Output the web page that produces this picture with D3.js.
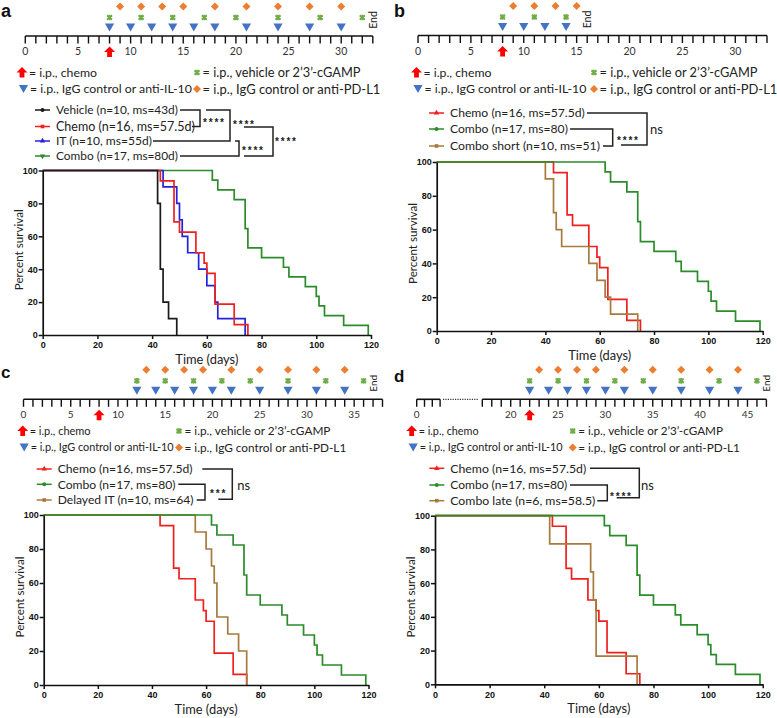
<!DOCTYPE html>
<html><head><meta charset="utf-8">
<script src="https://cdn.jsdelivr.net/npm/d3@7"></script>
<style>body{margin:0;background:#fff}svg{display:block}</style>
</head><body>
<svg id="fig" width="777" height="718"></svg>
<script>
// ---------------- DATA ----------------
// Kaplan-Meier step data (days, percent survival)
const chemoT   = [0,43,48,50,56,59,60,63,70,75];
const chemoS   = [100,93.75,68.75,62.5,50,43.75,37.5,18.75,6.25,0];
const comboT   = [0,62,64,70,74,75,80,88,90,96,100,101,103,110,119];
const comboS   = [100,94.12,88.24,82.35,64.71,52.94,47.06,41.18,35.29,29.41,23.53,17.65,11.76,5.88,0];
const vehicleT = [0,42,43,44,46,49];
const vehicleS = [100,80,40,20,10,0];
const itT      = [0,44,49,50,51,53,57,60,63,64,74];
const itS      = [100,90,80,70,60,50,40,30,20,10,0];
const shortT   = [0,40,43,44,46,56,59,62,64,74];
const shortS   = [100,90,70,60,50,40,30,20,10,0];
const delayedT = [0,56,60,62,63,64,68,72,75];
const delayedS = [100,90,80,70,60,40,30,20,0];
const lateT    = [0,42,57,58,59,74];
const lateS    = [100,83.33,66.67,50,16.67,0];

// legend labels
const legendA = ["Vehicle (n=10, ms=43d)","Chemo (n=16, ms=57.5d)","IT (n=10, ms=55d)","Combo (n=17, ms=80d)"];
const legendB = ["Chemo (n=16, ms=57.5d)","Combo (n=17, ms=80)","Combo short (n=10, ms=51)"];
const legendC = ["Chemo (n=16, ms=57.5d)","Combo (n=17, ms=80)","Delayed IT (n=10, ms=64)"];
const legendD = ["Chemo (n=16, ms=57.5d)","Combo (n=17, ms=80)","Combo late (n=6, ms=58.5)"];

// treatment schedules (days)
const chemoDaysA = [8],  cgampDaysA = [8,11,14,17,20,24,28,32], il10DaysA = [8,10,12,14,16,18,21,24,27,30], pdl1DaysA = [9,11,13,15,18,21,24,27,30];
const chemoDaysB = [8],  cgampDaysB = [8,11,14], il10DaysB = [8,10,12,14], pdl1DaysB = [9,11,13,15];
const chemoDaysC = [8],  cgampDaysC = [12,15,18,21,24,28,32,36], il10DaysC = [12,14,16,18,20,22,25,28,31,34], pdl1DaysC = [13,15,17,19,22,25,28,31,34];
const chemoDaysD = [22], cgampDaysD = [22,25,28,31,34,38,42,46], il10DaysD = [22,24,26,28,30,32,35,38,41,44], pdl1DaysD = [23,25,27,29,32,35,38,41,44];
const endDays = [33,16,37,47];
const tlLabelsAB = [0,5,10,15,20,25,30];
const tlLabelsC  = [0,5,10,15,20,25,30,35];
const tlLabelsD  = [0,20,25,30,35,40,45];
const kmXTicks = [0,20,40,60,80,100,120];
const kmYTicks = [0,20,40,60,80,100];
const schedLegend = ["= i.p., chemo","= i.p., vehicle or 2\u20193\u2019-cGAMP","= i.p., IgG control or anti-IL-10","= i.p., IgG control or anti-PD-L1"];

// ---------------- STYLE ----------------
const FONT = "Lato, 'Open Sans', sans-serif";
const C = {black:"#1a1a1a", red:"#f0201e", blue:"#2323dc", green:"#2a8c2a", brown:"#a87a3c",
           orange:"#ED7D31", tgreen:"#70AD47", tblue:"#4472C4", tred:"#FF0000"};
const svg = d3.select("#fig");

// ---------------- HELPERS ----------------
function txt(g,x,y,s,size,w){
  const t = g.append("text").attr("x",x).attr("y",y).attr("dy","0.35em").attr("font-family",FONT).attr("font-size",size||13).attr("fill","#222").text(s);
  if(w){ const m = t.node().getComputedTextLength(); if(m>0) t.attr("font-size",(size||13)*w/m); }
  return t;
}
function arrow(g,cx,cy){ g.append("path").attr("d",`M${cx},${cy-5.5}L${cx+5.5},${cy}L${cx+2.4},${cy}L${cx+2.4},${cy+5}L${cx-2.4},${cy+5}L${cx-2.4},${cy}L${cx-5.5},${cy}Z`).attr("fill",C.tred); }
function tri(g,cx,cy){ g.append("path").attr("d",`M${cx-4.6},${cy-4}L${cx+4.6},${cy-4}L${cx},${cy+4}Z`).attr("fill",C.tblue); }
function diam(g,cx,cy){ g.append("path").attr("d",`M${cx},${cy-4}L${cx+4},${cy}L${cx},${cy+4}L${cx-4},${cy}Z`).attr("fill",C.orange); }
function ast(g,cx,cy){ g.append("path").attr("d",d3.symbol(d3.symbolAsterisk,22)()).attr("transform",`translate(${cx},${cy})`).attr("stroke",C.tgreen).attr("stroke-width",1.7).attr("fill","none");
  g.append("path").attr("d",d3.symbol(d3.symbolTimes,16)()).attr("transform",`translate(${cx},${cy})`).attr("stroke",C.tgreen).attr("stroke-width",1.6).attr("fill","none"); }

// ---------------- TIMELINE ----------------
function timeline(o){
  const g = svg.append("g");
  const L = o.L;
  o.segments.forEach(sg=>{
    g.append("line").attr("x1",sg.x(sg.d0)).attr("x2",sg.x(sg.d1)).attr("y1",L).attr("y2",L).attr("stroke","#111").attr("stroke-width",1.6);
    d3.range(sg.d0, sg.d1+1).forEach(d=>{
      g.append("line").attr("x1",sg.x(d)).attr("x2",sg.x(d)).attr("y1",L).attr("y2",L+7.5).attr("stroke","#111").attr("stroke-width",1.4);
    });
  });
  if(o.dots) g.append("line").attr("x1",o.dots[0]).attr("x2",o.dots[1]).attr("y1",L).attr("y2",L).attr("stroke","#333").attr("stroke-width",1.2).attr("stroke-dasharray","1.2,1.2");
  o.labels.forEach(d=>{
    g.append("text").attr("x",o.x(d)).attr("y",L+19).attr("text-anchor","middle").attr("font-family",FONT).attr("font-size",o.fs).attr("fill","#333").text(d);
  });
  o.chemo.forEach(d=>arrow(g,o.x(d),L+16));
  o.il10.forEach(d=>tri(g,o.x(d),L-8.5));
  o.cgamp.forEach(d=>ast(g,o.x(d),L-18.5));
  o.pdl1.forEach(d=>diam(g,o.x(d),L-29.5));
  g.append("text").attr("transform",`translate(${o.x(o.end)+4},${L-16}) rotate(-90)`).attr("text-anchor","middle").attr("font-family",FONT).attr("font-size",o.fs).attr("fill","#222").text("End");
  const lg = o.leg;
  arrow(g,lg.x1,lg.r1); txt(g,lg.x1+7,lg.r1,schedLegend[0],13,lg.w[0]);
  ast(g,lg.x2,lg.r1); txt(g,lg.x2+5.5,lg.r1,schedLegend[1],13,lg.w[1]);
  tri(g,lg.x1+1.5,lg.r2); txt(g,lg.x1+8,lg.r2,schedLegend[2],13,lg.w[2]);
  diam(g,lg.x2,lg.r2); txt(g,lg.x2+5.5,lg.r2,schedLegend[3],13,lg.w[3]);
}

// ---------------- KM PANEL ----------------
function km(o){
  const g = svg.append("g");
  const x = d3.scaleLinear().domain([0,120]).range([o.x0,o.x1]);
  const y = d3.scaleLinear().domain([0,100]).range([o.y0,o.y1]);
  const line = d3.line().x(d=>x(d[0])).y(d=>y(d[1])).curve(d3.curveStepAfter);
  o.curves.forEach(c=>{
    g.append("path").attr("d",line(c.t.map((t,i)=>[t,c.s[i]]))).attr("fill","none").attr("stroke",c.color).attr("stroke-width",1.7);
  });
  const xa = g.append("g").attr("transform",`translate(0,${o.y0})`).call(d3.axisBottom(x).tickValues(kmXTicks).tickSize(4).tickSizeOuter(0));
  const ya = g.append("g").attr("transform",`translate(${o.x0},0)`).call(d3.axisLeft(y).tickValues(kmYTicks).tickSize(4).tickSizeOuter(0));
  [xa,ya].forEach(a=>{
    a.select(".domain").attr("stroke","#111").attr("stroke-width",1.7);
    a.selectAll(".tick line").attr("stroke","#111").attr("stroke-width",1.5);
    a.selectAll(".tick text").attr("font-family","Arial, 'Liberation Sans', sans-serif").attr("font-weight","bold").attr("font-size",9).attr("fill","#111");
  });
  ya.selectAll(".tick text").attr("x",-5);
  xa.selectAll(".tick text").attr("y",7);
  const t1 = g.append("text").attr("x",(o.x0+o.x1)/2).attr("y",o.y0+29).attr("text-anchor","middle").attr("font-family",FONT).attr("font-size",13).attr("fill","#222").text("Time (days)");
  t1.attr("font-size",13*63/t1.node().getComputedTextLength());
  const t2 = g.append("text").attr("transform",`translate(${o.x0-20},${(o.y0+o.y1)/2 - 3}) rotate(-90)`).attr("text-anchor","middle").attr("font-family",FONT).attr("font-size",13).attr("fill","#222").text("Percent survival");
  t2.attr("font-size",13*81/t2.node().getComputedTextLength());
  o.curves.slice().sort((a,b)=>a.row-b.row).forEach(c=>{
    const yy = o.rows[c.row];
    g.append("line").attr("x1",o.lx).attr("x2",o.lx+15).attr("y1",yy).attr("y2",yy).attr("stroke",c.color).attr("stroke-width",1.5);
    const sym = d3.symbol(c.sym, 13)();
    g.append("path").attr("d",sym).attr("transform",`translate(${o.lx+7.5},${yy})${c.rot?" rotate(180)":""}`).attr("fill",c.color);
    txt(g,o.lx+21,yy,o.legend[c.row],13,o.legW[c.row]);
  });
  o.brackets.forEach(b=>{
    g.append("path").attr("d",d3.line()(b)).attr("fill","none").attr("stroke","#222").attr("stroke-width",1.5);
  });
  o.sig.forEach(s=>{
    if(s.t==="ns") txt(g,s.x,s.y,"ns",13);
    else g.append("text").attr("x",s.x).attr("y",s.y+6).attr("font-family","Arial, sans-serif").attr("font-weight","bold").attr("font-size",10).attr("letter-spacing",1.8).attr("fill","#222").text(s.t);
  });
}

// ---------------- PANEL LETTERS ----------------
[["a",1,17,18],["b",394,17,18],["c",1,377.5,17],["d",394,381.5,17]].forEach(p=>{
  svg.append("text").attr("x",p[1]).attr("y",p[2]).attr("font-family","Arial, sans-serif").attr("font-weight","bold").attr("font-size",p[3]).attr("fill","#111").text(p[0]);
});

// ---------------- BUILD ----------------
{ const x = d3.scaleLinear().domain([0,33]).range([25.3,372.8]);
  timeline({L:36, x, fs:10.5, segments:[{x,d0:0,d1:33}], labels:tlLabelsAB, chemo:chemoDaysA, il10:il10DaysA, cgamp:cgampDaysA, pdl1:pdl1DaysA, end:endDays[0], leg:{x1:22,x2:197,r1:72.5,r2:89,w:[68,158,162,178]}});
  km({x0:42.7,x1:371,y0:335,y1:170.5,lx:35,rows:[110,126.5,141,156],legend:legendA,legW:[122,139,96,122],
      curves:[{t:comboT,s:comboS,color:C.green,row:3,sym:d3.symbolTriangle,rot:true},
              {t:itT,s:itS,color:C.blue,row:2,sym:d3.symbolTriangle},
              {t:chemoT,s:chemoS,color:C.red,row:1,sym:d3.symbolSquare},
              {t:vehicleT,s:vehicleS,color:C.black,row:0,sym:d3.symbolCircle}],
      brackets:[[[180,110],[200,110],[200,126.5],[192,126.5]],
                [[206,110],[230,110],[230,141],[153,141]],
                [[180,156],[239,156],[239,141],[235,141]],
                [[244,127],[273,127],[273,156],[244,156]]],
      sig:[{t:"****",x:203,y:120},{t:"****",x:233,y:121.5},{t:"****",x:242,y:148},{t:"****",x:275,y:139}]});
}
{ const x = d3.scaleLinear().domain([0,33]).range([418,767]);
  timeline({L:35.5, x, fs:10.5, segments:[{x,d0:0,d1:33}], labels:tlLabelsAB, chemo:chemoDaysB, il10:il10DaysB, cgamp:cgampDaysB, pdl1:pdl1DaysB, end:endDays[1], leg:{x1:416.5,x2:594,r1:72.5,r2:89,w:[68,158,162,178]}});
  km({x0:436.7,x1:762.7,y0:331,y1:162,lx:429,rows:[113,129,146],legend:legendB,legW:[135,118,150],
      curves:[{t:chemoT,s:chemoS,color:C.red,row:0,sym:d3.symbolTriangle},
              {t:shortT,s:shortS,color:C.brown,row:2,sym:d3.symbolSquare},
              {t:comboT,s:comboS,color:C.green,row:1,sym:d3.symbolCircle}],
      brackets:[[[587,113],[647,113],[647,145],[621,145]],
                [[570,129],[612.7,129],[612.7,146],[603,146]]],
      sig:[{t:"****",x:617,y:137.5},{t:"ns",x:650,y:129}]});
}
{ const x = d3.scaleLinear().domain([0,38]).range([23.5,382.5]);
  timeline({L:399.3, x, fs:10, segments:[{x,d0:0,d1:38}], labels:tlLabelsC, chemo:chemoDaysC, il10:il10DaysC, cgamp:cgampDaysC, pdl1:pdl1DaysC, end:endDays[2], leg:{x1:22.7,x2:179,r1:431,r2:447.5,w:[61,146,143,162]}});
  km({x0:43.7,x1:368.5,y0:685,y1:515,lx:36.7,rows:[469,484.3,500],legend:legendC,legW:[135,118,136],
      curves:[{t:chemoT,s:chemoS,color:C.red,row:0,sym:d3.symbolTriangle},
              {t:delayedT,s:delayedS,color:C.brown,row:2,sym:d3.symbolSquare},
              {t:comboT,s:comboS,color:C.green,row:1,sym:d3.symbolCircle}],
      brackets:[[[202.3,469],[232.3,469],[232.3,499.3],[218.3,499.3]],
                [[178.3,484.3],[205,484.3],[205,500],[196.7,500]]],
      sig:[{t:"***",x:210,y:491},{t:"ns",x:237.3,y:485}]});
}
{ const xl = d3.scaleLinear().domain([0,3]).range([416.7,440.1]);
  const xr = d3.scaleLinear().domain([17,47]).range([482.3,766.4]);
  const x = d=> d<=3 ? xl(d) : xr(d);
  timeline({L:399.3, x, fs:10, segments:[{x:xl,d0:0,d1:3},{x:xr,d0:17,d1:47}], dots:[443,479], labels:tlLabelsD, chemo:chemoDaysD, il10:il10DaysD, cgamp:cgampDaysD, pdl1:pdl1DaysD, end:endDays[3], leg:{x1:411.7,x2:572.7,r1:431,r2:447.5,w:[60,145,143,162]}});
  km({x0:435,x1:762.7,y0:684.3,y1:515.7,lx:429.3,rows:[468.3,485,500.7],legend:legendD,legW:[136,117,145],
      curves:[{t:chemoT,s:chemoS,color:C.red,row:0,sym:d3.symbolTriangle},
              {t:lateT,s:lateS,color:C.brown,row:2,sym:d3.symbolSquare},
              {t:comboT,s:comboS,color:C.green,row:1,sym:d3.symbolCircle}],
      brackets:[[[590,468.3],[639.3,468.3],[639.3,497.7],[616.7,497.7]],
                [[570,485],[607.3,485],[607.3,500.7],[597.3,500.7]]],
      sig:[{t:"****",x:610,y:494.3},{t:"ns",x:641,y:485}]});
}
</script>
</body></html>
